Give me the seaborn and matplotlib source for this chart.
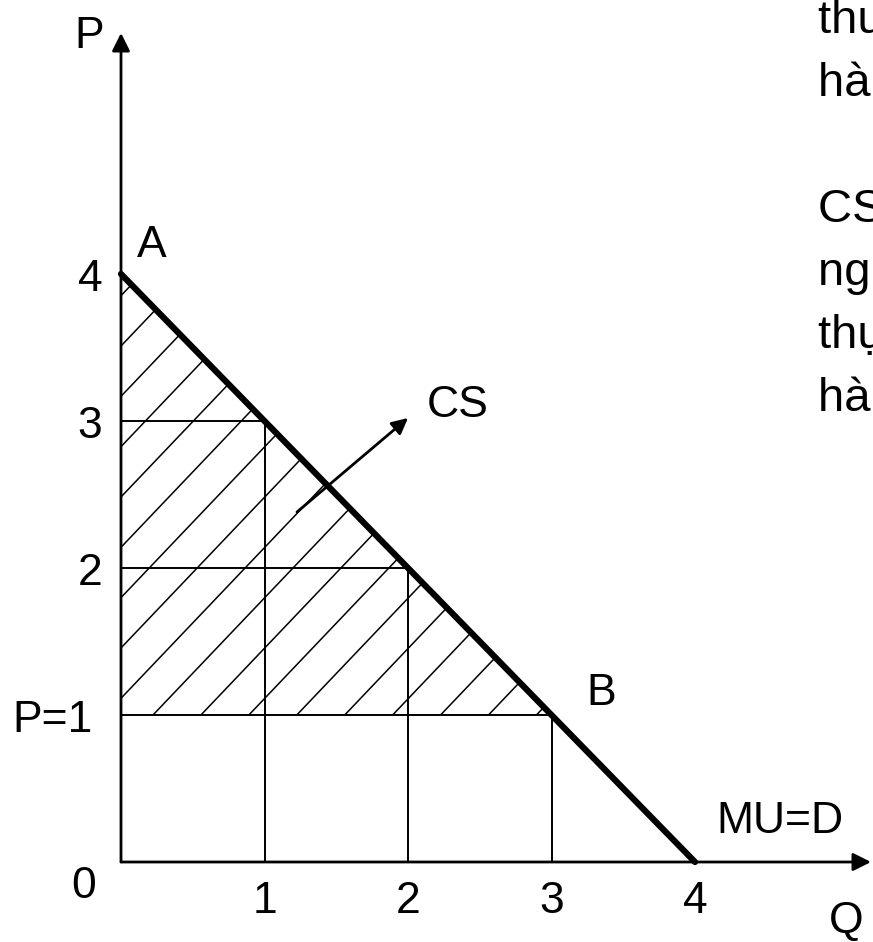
import numpy as np
import matplotlib
matplotlib.use("Agg")
import matplotlib.pyplot as plt
from matplotlib.patches import Polygon
from matplotlib.transforms import offset_copy
import seaborn as sns

# demand (= marginal utility) schedule
q_vals = [0, 1, 2, 3, 4]
p_vals = [4, 3, 2, 1, 0]
price = 1          # market price P=1
q_at_price = 3     # quantity bought at P=1

x_ticks = [1, 2, 3, 4]
x_tick_labels = ["1", "2", "3", "4"]
y_ticks = [4, 3, 2, 1]
y_tick_labels = ["4", "3", "2", "P=1"]

# text on the right, cut off by the edge of the slide
side_lines = ["thu được", "hàng hóa", "", "CS là tổng", "người tiêu dùng",
              "thụ một lượng", "hàng hóa"]

sns.set_theme(style="white")
plt.rcParams["font.family"] = ["Liberation Sans", "DejaVu Sans"]
plt.rcParams["text.color"] = "black"

W, H = 873, 942
fig = plt.figure(figsize=(W / 100, H / 100), dpi=100)
ax = fig.add_axes([0, 0, 1, 1])
X0, XS = 121, 143.5   # pixel of q=0, pixels per unit
Y0, YS = 862, 147.0   # pixel of p=0, pixels per unit
ax.set_xlim(-X0 / XS, (W - X0) / XS)
ax.set_ylim((Y0 - H) / YS, Y0 / YS)
ax.axis("off")

def dx(px):
    return (px - X0) / XS

def dy(py):
    return (Y0 - py) / YS

FS = 32

# hatched consumer surplus triangle
tri = Polygon([(0, p_vals[0]), (0, price), (q_at_price, price)], closed=True,
              fill=False, edgecolor="none")
ax.add_patch(tri)
slope = 1.025
for x0 in np.arange(0.223 - 3.34, 3.5, 0.334):
    xs = np.array([x0 - 5, x0 + 5])
    ln, = ax.plot(xs, price + slope * (xs - x0), color="black", lw=1.1)
    ln.set_clip_path(tri)

# guide lines from the demand curve to the axes
for q, p in zip(q_vals[1:4], p_vals[1:4]):
    ax.plot([q, q], [0, p], color="black", lw=1.4)
    ax.plot([0, q], [p, p], color="black", lw=1.4)

# demand curve
sns.lineplot(x=q_vals, y=p_vals, color="black", linewidth=4.5, ax=ax,
             sort=False, estimator=None, zorder=5)

# axes with arrows
arrow_kw = dict(arrowstyle="-|>", color="black", lw=2, mutation_scale=27,
                shrinkA=0, shrinkB=0)
ax.annotate("", xy=(dx(871), 0), xytext=(0, 0), arrowprops=arrow_kw)
ax.annotate("", xy=(0, dy(33)), xytext=(0, 0), arrowprops=arrow_kw)

# arrow pointing to CS
ax.annotate("", xy=(dx(408), dy(418)), xytext=(dx(297), dy(512)),
            arrowprops=dict(arrowstyle="-|>", color="black", lw=2,
                            mutation_scale=24, shrinkA=0, shrinkB=0))

# labels
def label(s, px, py, ha="center"):
    ax.text(dx(px), dy(py), s, fontsize=FS, ha=ha, va="baseline", color="black")

label("P", 89, 48)
label("A", 152, 257)
label("B", 601, 705)
label("MU=D", 780, 833)
label("CS", 458, 417)
label("Q", 846, 933)
label("0", 84, 898)

for t, s in zip(x_ticks, x_tick_labels):
    ax.text(t, dy(913), s, fontsize=FS, ha="center", va="baseline")

ytrans = offset_copy(ax.transData, fig=fig, x=0, y=-17, units="dots")
for t, s in zip(y_ticks, y_tick_labels):
    cx = 53 if s.startswith("P") else 90
    ax.text(dx(cx), t, s, fontsize=FS, ha="center", va="baseline",
            transform=ytrans)

for i, s in enumerate(side_lines):
    if s:
        ax.text(dx(818), dy(33 + 63 * i), s, fontsize=34, ha="left",
                va="baseline", clip_on=False)

fig.savefig("out.png", dpi=100)
